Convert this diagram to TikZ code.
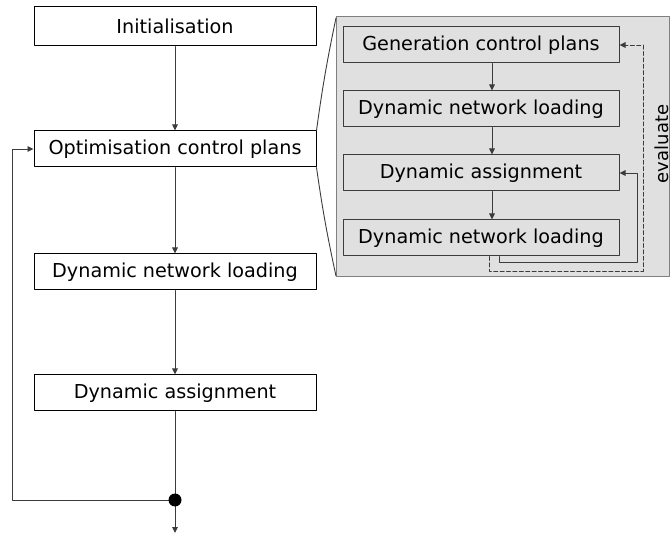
\documentclass[tikz,border=0pt]{standalone}
\usepackage{fontspec}
\setmainfont{DejaVu Sans}
\usetikzlibrary{arrows.meta}
\usetikzlibrary{positioning}
\definecolor{panelgray}{RGB}{224,224,224}
\definecolor{linegray}{RGB}{60,60,60}

\begin{document}
\begin{tikzpicture}[line cap=round,line join=round,>={Triangle[length=3pt,width=2.8pt]},x=0.5pt,y=-0.5pt,
  box/.style={draw=black,line width=0.5pt,fill=white,minimum width=141pt,minimum height=18pt,inner sep=0pt,font=\fontsize{9.6}{12}\selectfont},
  subbox/.style={box,draw=linegray,fill=panelgray,minimum width=138pt},
  flow/.style={->,color=linegray,line width=0.45pt}]
\useasboundingbox (0,0) rectangle (670,534);
% main loop
\node[box,minimum height=19.5pt] (init) at (175,26.5) {Initialisation};
\node[box,below=42pt of init] (opt) {Optimisation control plans};
\node[box,below=43pt of opt] (dnl) {Dynamic network loading};
\node[box,below=42pt of dnl] (da) {Dynamic assignment};
\coordinate (join) at (175,500);
\coordinate (exit) at (175,533);
\coordinate (back) at (12,500);
\draw[flow] (init) -- (opt);
\draw[flow] (opt) -- (dnl);
\draw[flow] (dnl) -- (da);
\draw[color=linegray,line width=0.5pt] (da) -- (join);
\draw[flow] (join) -- (exit);
\draw[flow] (join) -- (back) |- (opt.west);
\fill (join) circle (6.5);
% detail of the optimisation step
\coordinate (ptop) at (336,18);
\coordinate (pbot) at (336,276);
\draw[draw=gray,fill=panelgray,line width=0.5pt] (336,17) rectangle (669,277);
\draw[color=linegray,line width=0.45pt] (opt.north east) to[bend left=2] (ptop);
\draw[color=linegray,line width=0.45pt] (opt.south east) to[bend right=2] (pbot);
\node[subbox] (gen) at (481,45) {Generation control plans};
\node[subbox,below=13.5pt of gen] (dnlb) {Dynamic network loading};
\node[subbox,below=13.5pt of dnlb] (dab) {Dynamic assignment};
\node[subbox,below=14pt of dab] (dnlc) {Dynamic network loading};
\coordinate (ax) at (492,0);
\draw[flow] (gen.south -| ax) -- (dnlb.north -| ax);
\draw[flow] (dnlb.south -| ax) -- (dab.north -| ax);
\draw[flow] (dab.south -| ax) -- (dnlc.north -| ax);
\coordinate (solid) at (499,262);
\coordinate (solidc) at (637,262);
\coordinate (dash) at (489,271);
\coordinate (dashc) at (643,271);
\draw[flow] (dnlc.south -| solid) -- (solid) -- (solidc) |- (dab.east);
\draw[flow,dashed,dash pattern=on 2pt off 1.2pt] (dnlc.south -| dash) -- (dash) -- (dashc) |- (gen.east);
\node[rotate=90,anchor=base,font=\fontsize{9}{12}\selectfont] (eval) at (668,144) {evaluate};
\end{tikzpicture}
\end{document}
